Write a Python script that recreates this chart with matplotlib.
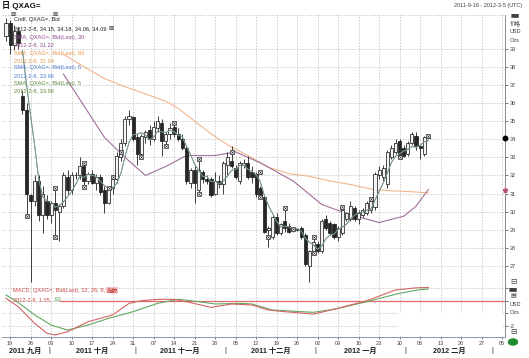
import numpy as np
import pandas as pd
import matplotlib
matplotlib.use('Agg')
import matplotlib.pyplot as plt
from matplotlib.patches import Rectangle, Circle
import matplotlib.transforms as mtrans

plt.rcParams['font.family'] = ['Liberation Sans', 'Noto Sans CJK SC', 'DejaVu Sans']

# ---------------- data ----------------
dates = pd.bdate_range('2011-09-16', '2012-02-08')

opens = [39.7, 40.4, 39.2, 40.0, 36.4, 35.6, 30.9, 30.6, 31.7, 29.8,
         30.6, 29.8, 30.5, 30.0, 30.3, 31.9, 31.2, 32.0, 32.0, 32.5,
         31.7, 32.1, 31.6, 31.9, 31.2, 30.5, 31.3, 31.8, 33.0, 33.8,
         35.1, 35.2, 34.1, 33.2, 34.1, 34.5, 34.0, 34.6, 34.9, 33.9,
         34.3, 34.7, 34.3, 34.0, 33.5, 31.6, 32.3, 31.2, 32.2, 31.8,
         31.8, 31.0, 31.7, 31.5, 32.6, 32.8, 32.4, 31.7, 32.6, 32.7,
         32.2, 32.1, 31.3, 30.8, 29.0, 28.6, 29.7, 28.8, 29.5, 29.2,
         29.0, 29.0, 29.1, 28.7, 27.0, 27.8, 28.2, 27.8, 29.6, 29.4,
         29.3, 28.6, 28.8, 29.6, 29.6, 30.2, 29.6, 29.8, 29.9, 30.1,
         30.25, 32.0, 31.9, 31.5, 33.0, 33.3, 33.9, 33.5, 33.2, 33.8,
         34.2, 33.6, 33.2, 34.15]
highs = [40.7, 40.6, 40.3, 40.2, 36.7, 36.0, 31.0, 32.0, 32.0, 31.4,
         30.9, 30.6, 31.3, 30.4, 32.2, 32.3, 32.2, 32.2, 33.0, 32.7,
         32.2, 32.3, 32.1, 32.1, 31.4, 31.4, 32.0, 33.3, 34.0, 35.3,
         35.6, 35.3, 34.3, 34.3, 34.5, 34.8, 35.0, 35.3, 35.1, 34.4,
         34.9, 34.9, 34.6, 34.3, 33.6, 32.4, 32.5, 32.9, 32.3, 32.0,
         31.9, 32.2, 32.0, 32.8, 33.3, 33.6, 32.6, 32.8, 32.9, 33.1,
         32.5, 32.2, 31.4, 30.9, 29.2, 29.8, 29.9, 29.4, 30.2, 29.4,
         29.1, 29.05, 29.2, 28.8, 27.9, 28.6, 28.4, 29.6, 29.8, 29.5,
         29.4, 29.2, 30.25, 30.0, 30.6, 30.3, 30.1, 30.2, 30.6, 30.7,
         32.2, 32.5, 32.6, 33.4, 33.7, 34.0, 34.0, 33.7, 33.9, 34.4,
         34.4, 33.6, 34.2, 34.18]
lows = [39.4, 38.7, 38.9, 39.0, 35.4, 29.7, 26.1, 30.3, 29.5, 28.8,
        29.6, 29.4, 28.6, 28.4, 30.2, 31.0, 31.0, 31.8, 31.8, 31.35,
        31.5, 31.5, 31.2, 30.9, 29.9, 30.4, 31.0, 31.6, 32.8, 33.6,
        34.8, 33.9, 32.6, 33.0, 33.8, 33.7, 33.9, 34.4, 33.1, 33.6,
        34.0, 34.1, 33.9, 33.4, 31.5, 31.3, 30.5, 31.0, 31.6, 31.5,
        30.8, 30.9, 31.3, 31.0, 32.0, 32.4, 31.8, 31.5, 32.4, 31.8,
        31.6, 30.8, 30.7, 28.8, 28.05, 28.5, 28.7, 28.7, 28.9, 28.8,
        28.9, 28.95, 28.5, 27.0, 26.1, 27.6, 27.7, 27.7, 29.0, 28.7,
        28.5, 28.4, 28.7, 29.5, 29.5, 29.5, 29.3, 29.7, 29.8, 29.9,
        30.1, 31.8, 31.7, 31.3, 32.9, 33.2, 32.9, 33.0, 33.1, 33.7,
        33.4, 32.9, 33.1, 34.06]
closes = [40.4, 39.2, 40.0, 39.3, 35.6, 31.0, 30.6, 31.7, 29.8, 31.0,
          29.8, 30.5, 30.1, 30.3, 32.0, 31.2, 32.0, 32.05, 32.5, 31.7,
          32.1, 31.6, 31.9, 31.1, 30.5, 31.3, 31.8, 33.1, 33.8, 35.1,
          35.3, 34.0, 33.2, 34.2, 34.4, 34.0, 34.7, 35.0, 33.9, 34.3,
          34.6, 34.3, 34.0, 33.5, 31.7, 32.3, 31.6, 32.3, 31.8, 31.7,
          30.9, 31.7, 31.5, 32.7, 33.0, 32.5, 31.9, 32.7, 32.7, 31.9,
          31.9, 31.0, 30.8, 28.9, 29.1, 29.7, 28.8, 29.3, 29.1, 28.9,
          29.05, 29.0, 28.6, 27.1, 27.8, 28.3, 27.8, 29.5, 29.1, 28.8,
          28.6, 29.1, 30.1, 29.9, 30.3, 29.6, 29.9, 30.1, 30.5, 30.6,
          32.1, 32.3, 32.4, 33.3, 33.5, 33.8, 33.0, 33.1, 33.8, 34.3,
          33.6, 33.5, 34.1, 34.09]

# SMA 30 / 60 (bar index, value)
sma30_idx = [14, 16, 20, 24, 29, 34, 39, 44, 51, 56, 62, 70, 77, 83, 91, 97, 100, 103]
sma30_val = [37.6, 36.9, 35.5, 34.1, 33.0, 32.0, 32.5, 33.1, 33.1, 33.3, 32.7, 31.7,
             30.4, 29.9, 29.4, 29.75, 30.3, 31.22]
sma60_idx = [14, 19, 24, 29, 34, 39, 42, 46, 50, 54, 59, 64, 69, 74, 79, 84, 89, 94, 99, 103]
sma60_val = [38.7, 38.0, 37.35, 36.9, 36.5, 36.1, 35.7, 35.0, 34.3, 33.7, 33.1, 32.45,
             32.1, 31.95, 31.7, 31.5, 31.25, 31.15, 31.1, 31.04]

# MACD (12,26,9)
macd_idx = [0, 3, 7, 10, 12, 15, 20, 23, 26, 30, 33, 37, 41, 44, 50, 55, 60, 64, 68,
            75, 80, 88, 95, 100, 103]
macd_val = [0.19, -0.48, -1.80, -2.59, -2.72, -2.46, -1.67, -1.40, -1.13, -0.21, 0.0,
            0.11, 0.11, -0.08, -0.53, -0.26, -0.34, -0.74, -0.87, -1.06, -0.68, 0.0,
            0.85, 1.02, 1.05]
sig_idx = [0, 3, 7, 11, 15, 20, 25, 31, 37, 42, 47, 51, 57, 60, 65, 72, 75, 80, 88,
           96, 101, 103]
sig_val = [0.45, -0.15, -1.13, -1.93, -2.33, -1.93, -1.40, -0.87, -0.21, 0.11, -0.08,
           -0.26, -0.21, -0.26, -0.74, -0.87, -0.92, -0.68, -0.08, 0.59, 0.88, 0.92]

# pattern markers (bar index, price)
mk_idx = [5, 12, 12, 19, 19, 25, 26, 28, 33, 39, 41, 47, 47, 55, 62, 62, 64, 68, 70,
          75, 75, 82, 89, 96, 103]
mk_val = [29.75, 31.3, 28.6, 32.7, 31.35, 31.3, 31.9, 33.3, 33.0, 33.65, 34.9, 32.9,
          31.0, 33.3, 32.2, 30.8, 28.6, 30.2, 29.05, 28.6, 27.7, 30.25, 30.7, 33.0, 34.2]

month_cn = {9: '九月', 10: '十月', 11: '十一月', 12: '十二月', 1: '一月', 2: '二月'}

# ---------------- figure ----------------
W, H = 529, 358
fig = plt.figure(figsize=(W / 100, H / 100), dpi=100)
fig.patch.set_facecolor('white')

def fx(px):
    return px / W

def fy(py):
    return 1 - py / H

XL, XR = -0.98, 121.7
ax = fig.add_axes([fx(2), fy(285), fx(505) - fx(2), fy(15) - fy(285)])
ax2 = fig.add_axes([fx(2), fy(337), fx(505) - fx(2), fy(285) - fy(337)])

o = np.array(opens); h = np.array(highs); l = np.array(lows); c = np.array(closes)
idx = np.arange(len(c))

grid_kw = dict(color='#b8b8b8', lw=0.5, ls=(0, (2, 2)))

ext = pd.bdate_range('2011-09-16', '2012-03-09')
mon_pos = [p for p, d in enumerate(ext) if d.weekday() == 0]
mon_lab = ['%02d' % ext[p].day for p in mon_pos]

for a in (ax, ax2):
    a.set_xlim(XL, XR)
    a.set_xticks(mon_pos)
    a.grid(True, **grid_kw)
    a.set_axisbelow(True)
    for s in ('left', 'top'):
        a.spines[s].set_visible(False)
    a.spines['right'].set_color('#8a8a8a')
    a.spines['right'].set_linewidth(0.7)
    a.spines['bottom'].set_color('#8898a8')
    a.spines['bottom'].set_linewidth(0.7)
    a.yaxis.tick_right()
    a.tick_params(axis='y', labelsize=4, length=2, width=0.5, pad=1.5,
                  colors='#404040')

ax.tick_params(axis='x', length=0, labelbottom=False)
ax.set_ylim(25.95, 40.86)
ax.set_yticks(range(27, 40))
ax.set_yticklabels([str(v) for v in range(27, 40)])
ax.axhline(40.86, color='#b8b8b8', lw=0.5, ls=(0, (2, 2)))

# candles
up = c >= o
body_lo = np.minimum(o, c)
body_h = np.maximum(np.abs(c - o), 0.04)
ax.vlines(idx, l, h, color='#202020', lw=0.6, zorder=3)
ax.bar(idx[up], body_h[up], bottom=body_lo[up], width=0.76, color='#f4f4f4',
       edgecolor='#202020', linewidth=0.55, zorder=4)
ax.bar(idx[~up], body_h[~up], bottom=body_lo[~up], width=0.76, color='#262626',
       edgecolor='#202020', linewidth=0.55, zorder=4)

# moving averages
sma5 = pd.Series(c).rolling(5).mean().values
ax.plot(sma60_idx, sma60_val, color='#f2b68c', lw=0.8, zorder=2)
ax.plot(sma30_idx, sma30_val, color='#a0709c', lw=0.8, zorder=2)
ax.plot(idx, sma5, color='#5a86c8', lw=0.6, zorder=5)
ax.plot(idx, sma5, color='#7f9a74', lw=0.6, zorder=5)

# pattern markers
ax.plot(mk_idx, mk_val, ls='none', marker='s', ms=2.8, mfc='white', mec='#202020',
        mew=0.5, zorder=6)
ax.plot(mk_idx, mk_val, ls='none', marker='x', ms=1.8, mec='#202020', mew=0.4, zorder=7)

# price markers on the right spine
tr_r = mtrans.blended_transform_factory(ax.transAxes, ax.transData)
ax.plot([1.0], [closes[-1]], marker='o', ms=3.2, color='black', transform=tr_r,
        clip_on=False, zorder=8)
ax.plot([1.0], [sma30_val[-1]], marker='*', ms=3.5, color='#c05070', transform=tr_r,
        clip_on=False, zorder=8)

# legend texts (main)
d_last = dates[-1]
dstr = '%d-%d-%d' % (d_last.year, d_last.month, d_last.day)
leg = [
    ('Cndl, QXAG=, Bid', '#202020', 20),
    ('%s, %.2f, %.2f, %.2f, %.2f' % (dstr, opens[-1], highs[-1], lows[-1], closes[-1]), '#202020', 28.5),
    ('SMA, QXAG=, Bid(Last), 30', '#8e4a8e', 37),
    ('%s, %.2f' % (dstr, sma30_val[-1]), '#8e4a8e', 45),
    ('SMA, QXAG=, Bid(Last), 60', '#e8964a', 53),
    ('%s, %.2f' % (dstr, sma60_val[-1]), '#e8964a', 60.5),
    ('SMA, QXAG=, Bid(Last), 5', '#4a7ad0', 68),
    ('%s, %.2f' % (dstr, 33.96), '#4a7ad0', 75.5),
    ('SMA, QXAG=, Bid(Last), 5', '#5a8a3a', 83),
    ('%s, %.2f' % (dstr, 33.96), '#5a8a3a', 90.5),
]
for txt, col, py in leg:
    fig.text(fx(14), fy(py), txt, color=col, fontsize=4.1, va='center', ha='left')

for px, py in [(13, 15), (55, 15), (111, 29)]:
    fig.text(fx(px), fy(py), '⊠', fontsize=4.5, va='center', ha='center',
             color='#303030', family=['DejaVu Sans'])

# title and header
fig.text(fx(2), fy(6), '日 QXAG=', fontsize=5.8, fontweight='bold', va='center',
         ha='left', color='#101010')
fig.text(fx(522), fy(5), '2011-9-16 - 2012-3-5 (UTC)', fontsize=4, va='center',
         ha='right', color='#404040')
fig.text(fx(511), fy(15), '■■', fontsize=3.5, va='center', ha='left', color='#404040',
         family=['DejaVu Sans'])
for txt, py in [('价格', 23), ('USD', 31.5), ('Ozs', 40)]:
    fig.text(fx(510), fy(py), txt, fontsize=4, va='center', ha='left', color='#404040')
fig.text(fx(513), fy(281), '⊟', fontsize=5.5, va='center', ha='center', color='#404040',
         family=['DejaVu Sans'])

# ---------------- MACD panel ----------------
ax2.set_ylim(-2.88, 1.246)
ax2.set_yticks([-2, -1, 0, 1])
ax2.set_yticklabels(['-2', '', '', ''])
ax2.axhline(0, xmin=(60 - 2) / 503, xmax=1, color='#e06a6a', lw=0.9, zorder=2)
ax2.plot(sig_idx, sig_val, color='#62a862', lw=0.8, zorder=3)
ax2.plot(macd_idx, macd_val, color='#d26464', lw=0.8, zorder=4)
ax2.set_xticklabels(mon_lab)
ax2.tick_params(axis='x', labelsize=4, length=1.5, width=0.5, pad=1.2,
                colors='#404040')

t1 = fig.text(fx(13), fy(290.5), 'MACD, QXAG=, Bid(Last), 12, 26, 9, ', fontsize=4.1,
              color='#d04848', va='center', ha='left')
ax2.annotate('指数', xy=(1, 0), xycoords=t1, va='bottom', ha='left', fontsize=4.1,
             color='#c03030',
             bbox=dict(boxstyle='square,pad=0.05', fc='#f6c0c0', ec='none'))
t2 = fig.text(fx(13), fy(299.5), '%s, %.2f, ' % (dstr, macd_val[-1]), fontsize=4.1,
              color='#d04848', va='center', ha='left')
ax2.annotate(('%.2f' % sig_val[-1]).lstrip('0'), xy=(1, 0), xycoords=t2, va='bottom',
             ha='left', fontsize=4.1, color='#4a9a3a')

fig.text(fx(513), fy(289), '■■', fontsize=3.5, va='center', ha='center', color='#404040',
         family=['DejaVu Sans'])
fig.text(fx(513), fy(296), '▤', fontsize=4.5, va='center', ha='center', color='#404040',
         family=['DejaVu Sans'])
fig.text(fx(510), fy(304), 'USD', fontsize=4, va='center', ha='left', color='#404040')
fig.text(fx(510), fy(312), 'Ozs', fontsize=4, va='center', ha='left', color='#404040')
fig.text(fx(513), fy(332), '⊟', fontsize=5.5, va='center', ha='center', color='#404040',
         family=['DejaVu Sans'])
fig.patches.append(Circle((fx(513), fy(342)), 0.0085, transform=fig.transFigure,
                          color='#1f8a2e', zorder=10))

# white patch over lower right of the MACD panel (as in reference)
fig.patches.append(Rectangle((fx(398), fy(336)), fx(503) - fx(398), fy(313) - fy(336),
                             transform=fig.transFigure, fc='white', ec='none', zorder=5))

# month labels
first_days = []
prev_m = None
for p, d in enumerate(ext):
    if d.month != prev_m:
        first_days.append((p, d))
        prev_m = d.month
bounds = [XL] + [p - 0.5 for p, d in first_days[1:]] + [XR]
tr_b = mtrans.blended_transform_factory(ax2.transData, fig.transFigure)
for k, (p, d) in enumerate(first_days):
    if d.month not in month_cn:
        continue
    cx = (bounds[k] + min(bounds[k + 1], XR)) / 2
    ax2.text(cx, fy(351), '%d %s' % (d.year, month_cn[d.month]), transform=tr_b,
             fontsize=5.2, fontweight='bold', ha='center', va='center', color='#202020',
             clip_on=False)
for b in bounds[1:-1]:
    ax2.text(b, fy(351), '|', transform=tr_b, fontsize=5, ha='center', va='center',
             color='#202020', clip_on=False)

fig.savefig('out.png', dpi=100, facecolor='white')
